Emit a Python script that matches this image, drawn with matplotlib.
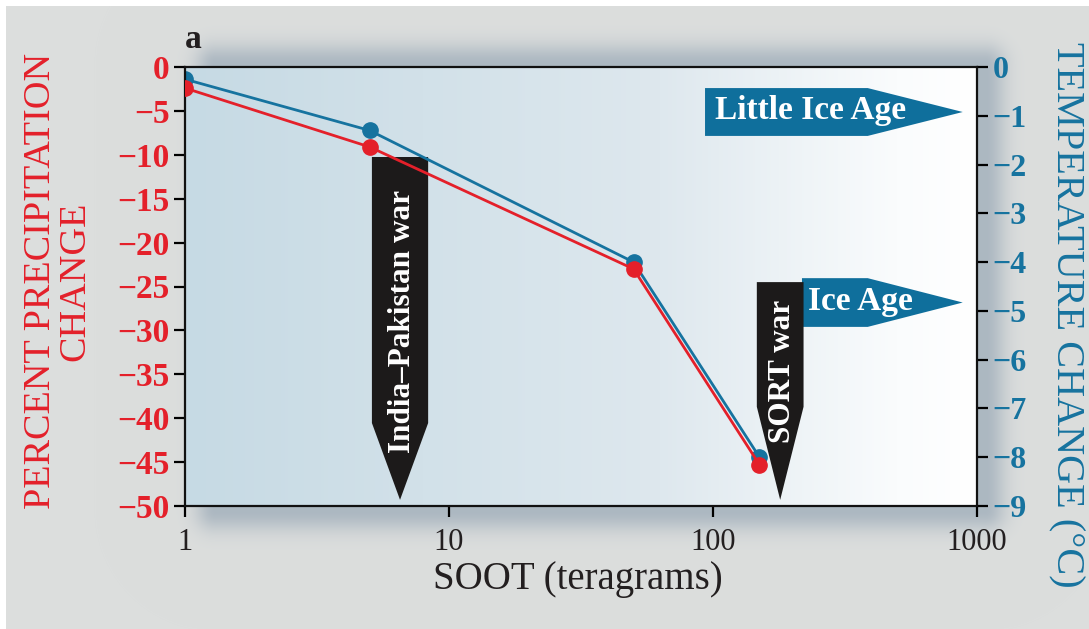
import numpy as np
import matplotlib.pyplot as plt
from matplotlib.patches import Polygon
from matplotlib.ticker import NullLocator, FixedLocator, FixedFormatter

plt.rcParams['font.family'] = ['Liberation Serif', 'DejaVu Serif']

# data
soot = [1, 5, 50, 150]                 # teragrams
precip = [-2.4, -9.1, -23.0, -45.3]    # percent
temp = [-0.25, -1.3, -4.0, -8.0]       # deg C

x_ticks = [1, 10, 100, 1000]
x_tick_labels = ['1', '10', '100', '1000']
precip_ticks = list(range(0, -51, -5))
temp_ticks = list(range(0, -10, -1))

RED = '#e4202a'
BLUE = '#16739f'
ARROW_BLUE = '#0f6f9c'
DARK = '#1c1a1a'

W, H = 1089, 629
fig = plt.figure(figsize=(W / 100, H / 100), dpi=100)

# gray panel with a soft shadow behind the plot box
yy, xx = np.mgrid[0:H, 0:W]
dx = np.maximum(np.maximum(215 - xx, xx - 985), 0)
dy = np.maximum(np.maximum(64 - yy, yy - 510), 0)
shade = 0.5 * np.exp(-(np.hypot(dx, dy) / 20.0) ** 2)
gray = np.array([220, 222, 221]) / 255
sh = np.array([125, 146, 166]) / 255
img = gray * (1 - shade[..., None]) + sh * shade[..., None]
img[:6, :] = 1
img[:, :6] = 1
bg = fig.add_axes([0, 0, 1, 1], zorder=0)
bg.imshow(img, aspect='auto', interpolation='bilinear')
bg.axis('off')

box = [185 / W, 1 - 506 / H, 792 / W, 439 / H]

# light blue -> white gradient inside the plot
gax = fig.add_axes(box, zorder=0.5)
t = np.linspace(0, 1, 400)
stops = [0, 0.3, 0.6, 0.9, 1]
rgb = np.stack([np.interp(t, stops, [198, 210, 222, 250, 255]),
                np.interp(t, stops, [218, 225, 232, 252, 255]),
                np.interp(t, stops, [228, 233, 238, 253, 255])], axis=-1) / 255
gax.imshow(rgb[None, :, :], aspect='auto', extent=[0, 1, 0, 1])
gax.axis('off')

ax = fig.add_axes(box, zorder=2)
ax2 = ax.twinx()
ax2.set_zorder(1)
ax.patch.set_visible(False)
ax2.patch.set_visible(False)

# annotation arrows (axes fractions): label, left, right, top, shoulder, tip, text pos
war_arrows = [
    ('India\u2013Pakistan war', 0.236, 0.307, 0.795, 0.189, 0.014, 0.121),
    ('SORT war', 0.722, 0.781, 0.510, 0.226, 0.014, 0.1435),
]
age_arrows = [
    ('Little Ice Age', 0.6566, 0.862, 0.952, 0.843, 0.982, 0.669),
    ('Ice Age', 0.779, 0.862, 0.519, 0.408, 0.982, 0.787),
]
for label, x0, x1, ytop, ybot, xtip, xt in age_arrows:
    yc = (ytop + ybot) / 2
    ax2.add_patch(Polygon([(x0, ytop), (x1, ytop), (xtip, yc), (x1, ybot), (x0, ybot)],
                          closed=True, transform=ax2.transAxes, color=ARROW_BLUE, zorder=1,
                          lw=0))
    ax2.text(xt, yc + 0.003, label, transform=ax2.transAxes, color='white',
             fontsize=24, fontweight='bold', ha='left', va='center', zorder=2)
for label, x0, x1, ytop, ymid, ytip, yt in war_arrows:
    xc = (x0 + x1) / 2
    ax2.add_patch(Polygon([(x0, ytop), (x1, ytop), (x1, ymid), (xc, ytip), (x0, ymid)],
                          closed=True, transform=ax2.transAxes, color=DARK, zorder=3, lw=0))
    ax2.text(xc + 0.003, yt, label, transform=ax2.transAxes, color='white',
             fontsize=22.5, fontweight='bold', rotation=90, ha='center', va='bottom', zorder=4)

ax2.plot(soot, temp, color=BLUE, lw=2.0, marker='o', ms=11, zorder=5)
ax.plot(soot, precip, color=RED, lw=2.0, marker='o', ms=11, zorder=5)

ax.set_xscale('log')
ax.set_xlim(1, 1000)
ax.set_ylim(-50, 0)
ax2.set_ylim(-9, 0)
ax.xaxis.set_major_locator(FixedLocator(x_ticks))
ax.xaxis.set_major_formatter(FixedFormatter(x_tick_labels))
ax.xaxis.set_minor_locator(NullLocator())
ax.set_yticks(precip_ticks)
ax2.set_yticks(temp_ticks)
ax2.set_yticklabels(['0'] + ['\u2212%d' % -v for v in temp_ticks[1:]])
ax.set_yticklabels(['0'] + ['\u2212%d' % -v for v in precip_ticks[1:]])

for s in ax.spines.values():
    s.set_linewidth(1.6)
    s.set_color('#111111')
for s in ax2.spines.values():
    s.set_visible(False)

ax.tick_params(axis='x', length=8, width=1.6, pad=8, labelsize=22, labelcolor='#231f20')
ax.tick_params(axis='y', length=8, width=1.6, pad=3, labelsize=24, labelcolor=RED)
ax2.tick_params(axis='y', length=8, width=1.6, pad=3, labelsize=23, labelcolor=BLUE)
for lab in ax.get_yticklabels():
    lab.set_fontweight('bold')
for lab in ax2.get_yticklabels():
    lab.set_fontweight('bold')

fig.text(58 / W, 1 - 281 / H, 'PERCENT PRECIPITATION\nCHANGE', color=RED, fontsize=27.5,
         rotation=90, ha='center', va='center', multialignment='center', linespacing=1.0)
fig.text(1066 / W, 1 - 315 / H, 'TEMPERATURE CHANGE (\u00b0C)', color=BLUE, fontsize=29,
         rotation=-90, ha='center', va='center')
fig.text(578 / W, 1 - 580 / H, 'SOOT (teragrams)', color='#231f20', fontsize=28,
         ha='center', va='center')
fig.text(193 / W, 1 - 40 / H, 'a', color='#231f20', fontsize=24, fontweight='bold',
         ha='center', va='center')

fig.savefig('out.png', dpi=100)
